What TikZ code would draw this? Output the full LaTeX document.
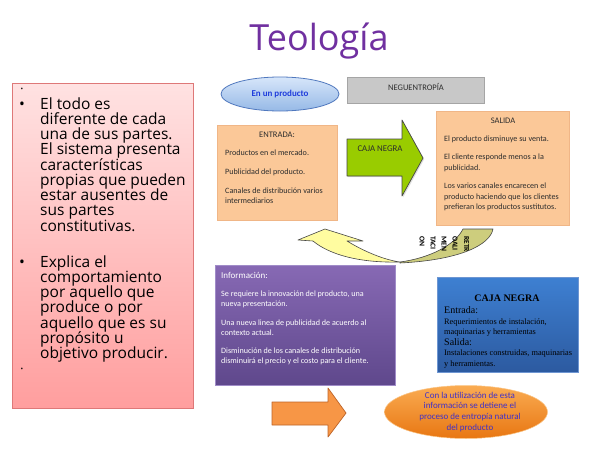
\documentclass[tikz,border=0pt]{standalone}
\usepackage{fontspec}
\setmainfont{Carlito}
\newfontfamily\comicf{Open Sans}
\newfontfamily\timesf{Liberation Serif}
\usetikzlibrary{shadows,shapes.geometric}
\definecolor{titlepurple}{RGB}{112,48,160}
\definecolor{pinktop}{RGB}{255,226,226}
\definecolor{pinkbot}{RGB}{255,158,158}
\definecolor{pinkline}{RGB}{222,120,120}
\definecolor{elltop}{RGB}{215,230,250}
\definecolor{ellbot}{RGB}{150,185,230}
\definecolor{ellline}{RGB}{80,120,190}
\definecolor{prodblue}{RGB}{30,60,220}
\definecolor{grayfill}{RGB}{200,200,200}
\definecolor{grayline}{RGB}{165,165,165}
\definecolor{peach}{RGB}{251,200,152}
\definecolor{peachline}{RGB}{240,182,135}
\definecolor{greenfill}{RGB}{153,204,0}
\definecolor{arrline}{RGB}{70,70,70}
\definecolor{yellowfill}{RGB}{255,252,160}
\definecolor{olivefill}{RGB}{205,205,125}
\definecolor{purpletop}{RGB}{135,105,180}
\definecolor{purplebot}{RGB}{95,72,140}
\definecolor{purpleline}{RGB}{160,140,200}
\definecolor{bluetop}{RGB}{62,128,210}
\definecolor{bluebot}{RGB}{44,90,160}
\definecolor{blueline}{RGB}{110,150,210}
\definecolor{orangefill}{RGB}{247,150,70}
\definecolor{orangeline}{RGB}{190,100,40}
\definecolor{ovaltop}{RGB}{250,172,82}
\definecolor{ovalbot}{RGB}{232,118,18}
\definecolor{ovaltext}{RGB}{64,48,200}
\definecolor{darktext}{RGB}{45,45,45}
\begin{document}
\begin{tikzpicture}[x=1pt,y=-1pt,
  softshadow/.style={drop shadow={opacity=0.25,shadow xshift=1.2pt,shadow yshift=-1.2pt}},
  bigtext/.style={font=\comicf\fontsize{15.5}{15}\selectfont, anchor=base west, inner sep=0, text=black},
  bulletmark/.style={font=\comicf\fontsize{15.5}{15}\selectfont, anchor=base, inner sep=0},
  tinybullet/.style={font=\comicf\fontsize{7}{8}\selectfont, anchor=base, inner sep=0},
  smalltext/.style={font=\fontsize{8.1}{9}\selectfont, anchor=base west, inner sep=0, text=darktext},
  headtext/.style={font=\fontsize{8.5}{9}\selectfont, anchor=base, inner sep=0, text=darktext},
  whitetext/.style={font=\fontsize{8.1}{9}\selectfont, anchor=base west, inner sep=0, text=white},
  timestext/.style={font=\timesf\fontsize{8.3}{9}\selectfont, anchor=base west, inner sep=0, text=black},
  retrotext/.style={font=\bfseries\fontsize{7.5}{8}\selectfont, anchor=base west, inner sep=0, rotate=-90, text=black},
  ovaltxt/.style={font=\fontsize{9}{10}\selectfont, anchor=base, inner sep=0, text=ovaltext}
]
\useasboundingbox (0,0) rectangle (600,450);
\fill[white] (0,0) rectangle (600,450);

% title
\node[font=\comicf\fontsize{36}{40}\selectfont, text=titlepurple, anchor=base, inner sep=0] (title) at (319,50) {Teología};

% left pink box
\draw[draw=pinkline, line width=0.8pt, top color=pinktop, bottom color=pinkbot, softshadow] (12,83) rectangle (193,408);
\node[tinybullet] (tb1) at (22,91) {•};
\node[bulletmark] (bl1) at (22,109) {•};
\foreach \t [count=\i from 0] in {El todo es, diferente de cada, una de sus partes., El sistema presenta, características, propias que pueden, estar ausentes de, sus partes, constitutivas.}
  \node[bigtext] (pa\i) at (40,109+15.25*\i) {\t};
\node[bulletmark] (bl2) at (22,267) {•};
\foreach \t [count=\i from 0] in {Explica el, comportamiento, por aquello que, produce o por, aquello que es su, propósito u, objetivo producir.}
  \node[bigtext] (pb\i) at (40,267+15.3*\i) {\t};
\node[tinybullet] (tb2) at (22,371) {•};

% ellipse "En un producto"
\node[ellipse, draw=ellline, line width=0.8pt, top color=elltop, bottom color=ellbot, minimum width=118pt, minimum height=34pt, inner sep=0, font=\bfseries\fontsize{9}{10}\selectfont, text=prodblue] (prod) at (280,94) {En un producto};

% NEGUENTROPIA box
\draw[fill=grayfill, draw=grayline, line width=0.8pt] (347,77) rectangle (484,103);
\node[headtext] (neg) at (416,90) {NEGUENTROPÍA};

% ENTRADA box
\draw[fill=peach, draw=peachline, line width=0.6pt, softshadow] (217,125) rectangle (337,220);
\node[headtext] (ent) at (277,137.5) {ENTRADA:};
\node[smalltext] (e1) at (225,155.5) {Productos en el mercado.};
\node[smalltext] (e2) at (225,174.5) {Publicidad del producto.};
\node[smalltext] (e3) at (225,193.5) {Canales de distribución varios};
\node[smalltext] (e4) at (225,203.8) {intermediarios};

% green block arrow
\draw[fill=greenfill, draw=arrline, line width=0.7pt, line join=round, softshadow]
  (347,139) -- (402,139) -- (402,120) -- (423,158) -- (402,196) -- (402,176) -- (347,176) -- cycle;
\node[font=\fontsize{8.8}{10}\selectfont, text=darktext, inner sep=0] (cajag) at (380,149) {CAJA NEGRA};

% SALIDA box
\draw[fill=peach, draw=peachline, line width=0.6pt, softshadow] (436,111) rectangle (569,225);
\node[headtext] (sal) at (503,123.5) {SALIDA};
\foreach \t/\yy [count=\i] in {El producto disminuye su venta./141.5, El cliente responde menos a la/159.5, publicidad./170, Los varios canales encarecen el/188.5, producto haciendo que los clientes/199.3, prefieran los productos sustitutos./209.8}
  \node[smalltext] (s\i) at (444,\yy) {\t};

% curved feedback arrow
\draw[fill=yellowfill, draw=arrline, line width=0.6pt, line join=round]
  (313,241) -- (298,240) -- (325,229) -- (363,241) -- (347,241)
  .. controls (365,252) and (385,260) .. (400,262)
  .. controls (360,263) and (330,255) .. (313,241) -- cycle;
\draw[fill=olivefill, draw=arrline, line width=0.6pt, line join=round]
  (400,262) .. controls (430,258) and (455,245) .. (463,229) -- (493,229)
  .. controls (490,245) and (460,260) .. (400,263) -- cycle;
\foreach \t/\xx [count=\i] in {RETR/464, OALI/452.5, MEN/441.5, TACI/430.5, ON/419.5}
  \node[retrotext] (r\i) at (\xx,236) {\t};

% purple information box
\draw[draw=purpleline, line width=0.6pt, top color=purpletop, bottom color=purplebot, softshadow] (215,265) rectangle (395,385);
\node[font=\fontsize{9}{10}\selectfont, anchor=base west, inner sep=0, text=white] (inf) at (221,278) {Información:};
\foreach \t/\yy [count=\i] in {{Se requiere la innovación del producto, una}/296.5, nueva presentación./306.8, Una nueva linea de publicidad de acuerdo al/325.5, contexto actual./335.8, Disminución de los canales de distribución/353.5, disminuirá el precio y el costo para el cliente./363.8}
  \node[whitetext] (w\i) at (221,\yy) {\t};

% blue CAJA NEGRA box
\draw[draw=blueline, line width=0.6pt, top color=bluetop, bottom color=bluebot, softshadow] (437,277) rectangle (578,372);
\node[font=\timesf\bfseries\fontsize{10}{11}\selectfont, anchor=base, inner sep=0, text=black] (cn) at (507,301.5) {CAJA NEGRA};
\node[font=\timesf\fontsize{10}{11}\selectfont, anchor=base west, inner sep=0, text=black] (cne) at (444,313.5) {Entrada:};
\node[timestext] (cn1) at (444,324.5) {Requerimientos de instalación,};
\node[timestext] (cn2) at (444,334.5) {maquinarias y herramientas};
\node[font=\timesf\fontsize{10}{11}\selectfont, anchor=base west, inner sep=0, text=black] (cns) at (444,345.5) {Salida:};
\node[timestext] (cn3) at (444,355.5) {Instalaciones construidas, maquinarias};
\node[timestext] (cn4) at (444,366.5) {y herramientas.};

% orange block arrow
\draw[fill=orangefill, draw=orangeline, line width=0.7pt, line join=round]
  (272,402) -- (328,402) -- (328,388) -- (346,413) -- (328,437) -- (328,425) -- (272,425) -- cycle;

% orange ellipse
\node[ellipse, top color=ovaltop, bottom color=ovalbot, draw=ovaltop!70!white, line width=0.5pt, minimum width=163pt, minimum height=53pt, inner sep=0] (oval) at (466,412) {};
\foreach \t/\yy [count=\i] in {Con la utilización de esta/398, información se detiene el/408.5, proceso de entropía natural/419, del producto/430}
  \node[ovaltxt] (o\i) at (470,\yy) {\t};
\end{tikzpicture}
\end{document}
